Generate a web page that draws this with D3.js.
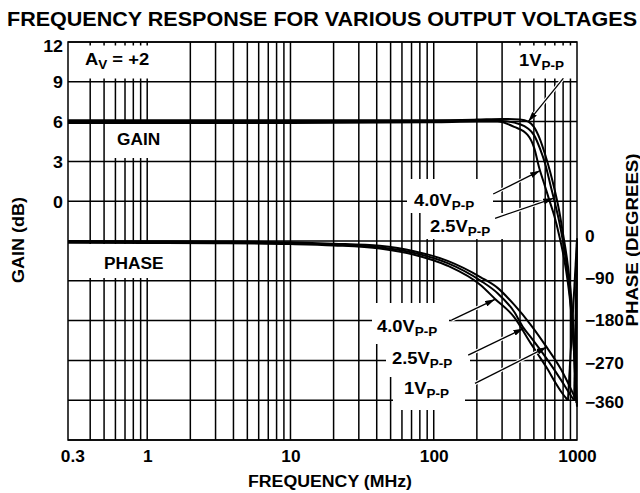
<!DOCTYPE html>
<html><head><meta charset="utf-8">
<script src="https://cdn.jsdelivr.net/npm/d3@7"></script>
<style>
body{margin:0;background:#fff}
text{font-family:"Liberation Sans",Arial,Helvetica,sans-serif;font-weight:bold;fill:#000}
</style>
</head><body>
<svg id="chart" width="640" height="493"></svg>
<script>
// ---------- data ----------
const gainTicks = [12, 9, 6, 3, 0];
const phaseTicks = [0, -90, -180, -270, -360];
const freqTicks = [0.3, 1, 10, 100, 1000];
const freqTickLabels = ["0.3", "1", "10", "100", "1000"];
const gainGridLines = [12, 9, 6, 3, 0, -3, -6, -9, -12, -15, -18];
const decades = [0.1, 1, 10, 100];
const multipliers = [1, 2, 3, 4, 5, 6, 7, 8, 9];

// gain curves (MHz, dB)
const gainFreq1V = [0.28, 1, 10, 100, 200, 300, 400, 457, 500, 550, 600, 650, 700, 750, 800, 850, 900, 950, 1000];
const gain1V     = [6.1, 6.1, 6.1, 6.1, 6.15, 6.2, 6.15, 6.0, 5.6, 4.7, 3.5, 2.2, 0.8, -0.7, -2.5, -4.3, -6.6, -10.0, -15.5];
const gainFreq2V5 = [0.28, 1, 10, 100, 200, 300, 400, 452, 500, 550, 600, 650, 700, 750, 800, 850, 900, 950, 990];
const gain2V5     = [6.0, 6.0, 6.0, 6.05, 6.1, 6.05, 5.8, 5.5, 5.0, 4.0, 2.8, 1.3, -0.1, -1.5, -3.1, -5.0, -7.5, -11.0, -15.2];
const gainFreq4V = [0.28, 1, 10, 100, 200, 279, 365, 452, 503, 545, 591, 640, 694, 752, 815, 860, 908, 933, 958, 984];
const gain4V     = [5.9, 5.9, 5.9, 5.95, 6.0, 6.0, 5.6, 5.0, 4.0, 2.5, 1.3, 0.1, -1.1, -2.6, -4.4, -6.0, -8.2, -9.8, -11.8, -15.0];

// phase curves (MHz, degrees)
const phaseFreq1V = [0.28, 1, 3, 10, 20, 42, 73, 125, 213, 279, 364, 477, 614, 773, 908, 985, 1000];
const phase1V     = [0, -0.4, -1, -3, -6, -11, -23, -45, -82, -106, -144, -190, -240, -290, -335, -360, 6];
const phaseFreq2V5 = [0.28, 1, 3, 10, 20, 42, 73, 125, 213, 279, 364, 422, 477, 614, 773, 908, 955, 1000];
const phase2V5     = [-2, -2.4, -3, -5, -8, -14, -27, -50, -90, -118, -160, -196, -218, -266, -314, -350, -360, 4];
const phaseFreq4V = [0.28, 1, 3, 10, 20, 42, 73, 125, 213, 268, 364, 477, 531, 624, 700, 780, 838, 865, 1000];
const phase4V     = [-4, -4.4, -5, -7, -10, -17, -31, -56, -100, -131, -172, -232, -255, -290, -318, -342, -355, -360, 2];

// ---------- layout ----------
const svg = d3.select("#chart");
const L = 68, R = 577, T = 42, B = 440;
const x = d3.scaleLog().domain([0.28, 1000]).range([L, R]);
const yG = d3.scaleLinear().domain([12, -18]).range([T, B]);
const yP = d3.scaleLinear().domain([0, -450]).range([yG(-3), B]);

function widen(sel, k) {
  sel.each(function () {
    const n = this.getComputedTextLength();
    d3.select(this).attr("textLength", n * k).attr("lengthAdjust", "spacingAndGlyphs");
  });
}

// grid
const vGrid = [];
decades.forEach(d => multipliers.forEach(m => {
  const f = +(d * m).toPrecision(3);
  if (f > 0.3 && f < 1000) vGrid.push(f);
}));
const grid = svg.append("g").attr("stroke", "#000").attr("stroke-width", 1.5);
grid.selectAll("line.h").data(gainGridLines).join("line")
  .attr("x1", L).attr("x2", R).attr("y1", d => yG(d)).attr("y2", d => yG(d));
grid.selectAll("line.v").data(vGrid).join("line")
  .attr("x1", d => x(d)).attr("x2", d => x(d)).attr("y1", T).attr("y2", B);
svg.append("rect").attr("x", L).attr("y", T).attr("width", R - L).attr("height", B - T)
  .attr("fill", "none").attr("stroke", "#000").attr("stroke-width", 1.5);

// white label boxes
const boxes = [
  [69, 45.5, 117, 33],     // Av
  [106, 124, 79, 34],      // GAIN
  [89, 244, 96, 34],       // PHASE
  [504, 45.5, 72, 33],     // 1V top
  [407, 179, 86, 34],      // 4.0V gain
  [421, 213, 91, 26],      // 2.5V gain
  [372, 303, 77, 41],      // 4.0V phase
  [386, 343, 84, 34],      // 2.5V phase
  [393, 376, 72, 34]       // 1V phase
];
svg.append("g").selectAll("rect").data(boxes).join("rect")
  .attr("x", d => d[0]).attr("y", d => d[1]).attr("width", d => d[2]).attr("height", d => d[3])
  .attr("fill", "#fff");

// curves
const gLine = d3.line().x(d => x(d[0])).y(d => yG(d[1])).curve(d3.curveMonotoneX);
const pLine = d3.line().x(d => x(d[0])).y(d => yP(d[1])).curve(d3.curveLinear);
const gainSeries = [[gainFreq1V, gain1V], [gainFreq2V5, gain2V5], [gainFreq4V, gain4V]];
const phaseSeries = [[phaseFreq1V, phase1V], [phaseFreq2V5, phase2V5], [phaseFreq4V, phase4V]];
const curves = svg.append("g").attr("fill", "none").attr("stroke", "#000").attr("stroke-width", 2)
  .attr("stroke-linejoin", "round");
gainSeries.forEach(([f, v]) => curves.append("path").attr("d", gLine(f.map((d, i) => [d, v[i]]))));
phaseSeries.forEach(([f, v]) => {
  const pts = f.map((d, i) => [d, v[i]]);
  const main = pts.slice(0, -1), wrap = pts.slice(-2);
  curves.append("path").attr("d", d3.line().x(d => x(d[0])).y(d => yP(d[1])).curve(d3.curveMonotoneX)(main));
  curves.append("path").attr("d", pLine(wrap));
});

// axes
function styleAxis(g, size) {
  g.select(".domain").remove();
  g.selectAll("text").attr("font-family", "'Liberation Sans',Arial,sans-serif")
    .attr("font-weight", "bold").attr("font-size", size).attr("fill", "#000");
}
const axL = svg.append("g").attr("transform", `translate(${L},0)`)
  .call(d3.axisLeft(yG).tickValues(gainTicks).tickSize(0).tickPadding(5).tickFormat(d3.format("d")));
styleAxis(axL, 16.5);
axL.selectAll(".tick text").attr("dy", d => d === 12 ? "0.55em" : "0.36em");
const axR = svg.append("g").attr("transform", `translate(${R},0)`)
  .call(d3.axisRight(yP).tickValues(phaseTicks).tickSize(0).tickPadding(8).tickFormat(d3.format("d")));
styleAxis(axR, 16);
const phaseNudge = {"0": -5, "-90": -3, "-180": -1, "-270": 2, "-360": 2};
axR.selectAll(".tick text").attr("dy", "0.36em").attr("y", d => phaseNudge[d]);
const axB = svg.append("g").attr("transform", `translate(0,${B})`)
  .call(d3.axisBottom(x).tickValues(freqTicks).tickSize(0).tickPadding(11)
    .tickFormat((d, i) => freqTickLabels[i]));
styleAxis(axB, 16);
[axL, axR, axB].forEach(a => widen(a.selectAll("text"), 1.08));

// titles
svg.append("text").attr("x", 7).attr("y", 26).attr("font-size", 19.5)
  .attr("textLength", 630).attr("lengthAdjust", "spacingAndGlyphs")
  .text("FREQUENCY RESPONSE FOR VARIOUS OUTPUT VOLTAGES");
svg.append("text").attr("x", 330).attr("y", 487).attr("font-size", 16).attr("text-anchor", "middle")
  .attr("textLength", 164).attr("lengthAdjust", "spacingAndGlyphs").text("FREQUENCY (MHz)");
svg.append("text").attr("transform", "translate(24,240) rotate(-90)").attr("font-size", 16)
  .attr("text-anchor", "middle").attr("textLength", 86).attr("lengthAdjust", "spacingAndGlyphs").text("GAIN (dB)");
svg.append("text").attr("transform", "translate(638,240) rotate(-90)").attr("font-size", 16)
  .attr("text-anchor", "middle").attr("textLength", 173).attr("lengthAdjust", "spacingAndGlyphs").text("PHASE (DEGREES)");

// annotation labels
function subLabel(px, py, main, sub, tail) {
  const t = svg.append("text").attr("x", px).attr("y", py).attr("font-size", 17);
  t.append("tspan").text(main);
  t.append("tspan").attr("font-size", 12.5).attr("dy", 4).text(sub);
  if (tail) t.append("tspan").attr("dy", -4).text(tail);
  widen(t, 1.08);
  return t;
}
subLabel(85, 65, "A", "V", " = +2");
subLabel(519, 66, "1V", "P-P");
subLabel(414, 206, "4.0V", "P-P");
subLabel(430, 232, "2.5V", "P-P");
subLabel(377, 332, "4.0V", "P-P");
subLabel(392, 364, "2.5V", "P-P");
subLabel(404, 394, "1V", "P-P");
[["GAIN", 117, 145], ["PHASE", 104, 269]].forEach(([s, px, py]) => {
  const t = svg.append("text").attr("x", px).attr("y", py).attr("font-size", 16).text(s);
  widen(t, 1.08);
});

// arrows (data coordinates: frequency, value)
const gainArrows = [
  [[802, 9.26], [457, 6.0]],
  [[260, 0.54], [552, 2.3]],
  [[268, -1.29], [683, 0.22]]
];
const phaseArrows = [
  [[133, -179], [268, -132]],
  [[174, -258], [422, -198]],
  [[194, -322], [614, -240]]
];
const defs = svg.append("defs");
defs.append("marker").attr("id", "ah").attr("viewBox", "0 0 10 6").attr("refX", 10).attr("refY", 3)
  .attr("markerWidth", 10).attr("markerHeight", 6).attr("markerUnits", "userSpaceOnUse").attr("orient", "auto")
  .append("path").attr("d", "M0,0 L10,3 L0,6 Z").attr("fill", "#000");
const arrowSegs = gainArrows.map(a => a.map(p => [x(p[0]), yG(p[1])]))
  .concat(phaseArrows.map(a => a.map(p => [x(p[0]), yP(p[1])])));
const ar = svg.append("g");
ar.selectAll("line.halo").data(arrowSegs).join("line")
  .attr("x1", d => d[0][0]).attr("y1", d => d[0][1])
  .attr("x2", d => d[0][0] + (d[1][0] - d[0][0]) * 0.9).attr("y2", d => d[0][1] + (d[1][1] - d[0][1]) * 0.9)
  .attr("stroke", "#fff").attr("stroke-width", 3.5);
ar.selectAll("line.arr").data(arrowSegs).join("line")
  .attr("x1", d => d[0][0]).attr("y1", d => d[0][1]).attr("x2", d => d[1][0]).attr("y2", d => d[1][1])
  .attr("stroke", "#000").attr("stroke-width", 1.3).attr("marker-end", "url(#ah)");
</script>
</body></html>
